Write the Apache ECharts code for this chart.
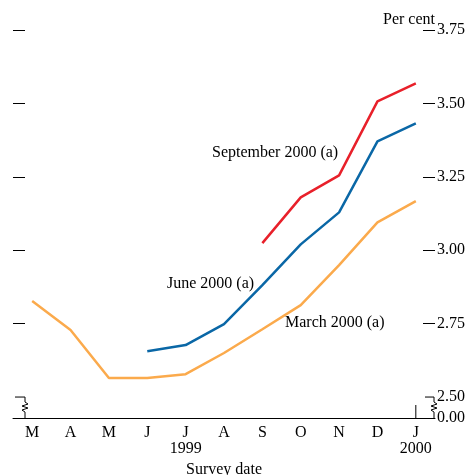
<!DOCTYPE html>
<html><head><meta charset="utf-8">
<script src="https://cdn.jsdelivr.net/npm/echarts@6/dist/echarts.min.js"></script>
<style>html,body{margin:0;padding:0;background:#fff}#c{width:469px;height:475px}</style>
</head><body><div id="c"></div>
<script>
const months = ['M','A','M','J','J','A','S','O','N','D','J'];
const yearLabels = ['','','','','1999','','','','','','2000'];
const march2000 = [2.827,2.728,2.565,2.565,2.578,2.650,2.731,2.813,2.949,3.095,3.167];
const june2000 = [null,null,null,2.656,2.677,2.748,2.881,3.020,3.129,3.371,3.432];
const sept2000 = [null,null,null,null,null,null,3.024,3.180,3.255,3.507,3.568];
const yTicks = [2.75,3.00,3.25,3.50,3.75];
const yLabelValues = [2.4286,2.50,2.75,3.00,3.25,3.50,3.75];
const seriesNames = ['March 2000 (a)','June 2000 (a)','September 2000 (a)'];

const FONT = "'Liberation Serif','Times New Roman',serif";
const FS = 16;
const chart = echarts.init(document.getElementById('c'), null, {renderer:'canvas'});
const yMin = 2.4286, yMax = 3.75;
const txt = {fill:'#000', fontFamily:FONT, fontSize:FS};

chart.setOption({
  animation:false,
  grid:{left:13, right:34, top:30, bottom:57, containLabel:false, outerBoundsMode:'none'},
  xAxis:{
    type:'category', data:months, boundaryGap:true,
    axisLine:{lineStyle:{color:'#000', width:1}},
    axisTick:{inside:true, length:6, alignWithLabel:true, interval:0, lineStyle:{color:'#000'}},
    axisLabel:{margin:7, interval:0, color:'#000', fontFamily:FONT, fontSize:FS, lineHeight:16,
      formatter:(v,i)=> yearLabels[i] ? v + '\n' + yearLabels[i] : v},
    name:'Survey date', nameLocation:'middle', nameGap:40,
    nameTextStyle:{color:'#000', fontFamily:FONT, fontSize:FS},
    splitLine:{show:false}
  },
  yAxis:[{
    type:'value', position:'right', min:yMin, max:yMax,
    axisLine:{show:false},
    axisTick:{show:true, inside:true, length:12, customValues:yTicks, lineStyle:{color:'#000'}},
    axisLabel:{show:true, margin:2, customValues:yLabelValues, color:'#000', fontFamily:FONT, fontSize:FS,
      formatter:v=> v<2.45 ? '0.00' : v.toFixed(2)},
    splitLine:{show:false}
  },{
    type:'value', position:'left', min:yMin, max:yMax,
    axisLine:{show:false},
    axisTick:{show:true, inside:true, length:12, customValues:yTicks, lineStyle:{color:'#000'}},
    axisLabel:{show:false},
    splitLine:{show:false}
  }],
  series:[
    {name:seriesNames[0], type:'line', data:march2000, symbol:'none', yAxisIndex:0,
      lineStyle:{color:'#FBAA4C', width:2.5}, z:2},
    {name:seriesNames[1], type:'line', data:june2000, symbol:'none', yAxisIndex:0,
      lineStyle:{color:'#0A67A6', width:2.5}, z:3},
    {name:seriesNames[2], type:'line', data:sept2000, symbol:'none', yAxisIndex:0,
      lineStyle:{color:'#E8202A', width:2.5}, z:4}
  ]
});

// decorations: axis breaks, annotations
const g = chart.getModel().getComponent('grid').coordinateSystem.getRect();
const yBrk = chart.convertToPixel({yAxisIndex:0}, 2.5);
const yBase = g.y + g.height;
const xJ = chart.convertToPixel({xAxisIndex:0}, 10);
function brk(x0, xs){
  return [[x0, yBrk],[xs, yBrk],[xs, yBrk+5],[xs+3,yBrk+7],[xs-3,yBrk+9],[xs+3,yBrk+11],[xs-3,yBrk+13],[xs,yBrk+15],[xs, yBase]];
}
const lineStyle = {stroke:'#000', lineWidth:1, fill:null};
chart.setOption({
  graphic:[
    {type:'polyline', shape:{points:brk(g.x+2, g.x+12)}, style:lineStyle, silent:true},
    {type:'polyline', shape:{points:brk(g.x+g.width-10, g.x+g.width-1)}, style:lineStyle, silent:true},
    {type:'line', shape:{x1:xJ, y1:yBase-13, x2:xJ, y2:yBase}, style:{stroke:'#000', lineWidth:1}, silent:true},
    {type:'text', left:383, top:12, style:Object.assign({text:'Per cent'}, txt), silent:true},
    {type:'text', left:212, top:145, style:Object.assign({text:seriesNames[2]}, txt), silent:true},
    {type:'text', left:167, top:276, style:Object.assign({text:seriesNames[1]}, txt), silent:true},
    {type:'text', left:285, top:315, style:Object.assign({text:seriesNames[0]}, txt), silent:true}
  ]
});
</script></body></html>
